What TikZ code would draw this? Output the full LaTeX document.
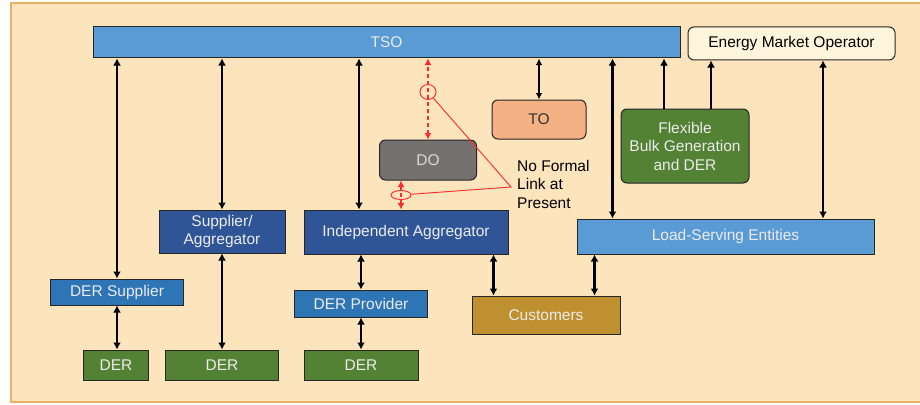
\documentclass[tikz,border=0pt]{standalone}
\usepackage{fontspec}
\setmainfont{Liberation Sans}
\usetikzlibrary{arrows.meta,shapes.geometric}
\definecolor{bgfill}{HTML}{FCE4BD}
\definecolor{bgline}{HTML}{E9B164}
\definecolor{tsoblue}{HTML}{5B9BD5}
\definecolor{derblue}{HTML}{2E75B6}
\definecolor{aggblue}{HTML}{2F5597}
\definecolor{dergreen}{HTML}{548235}
\definecolor{dogray}{HTML}{767171}
\definecolor{tofill}{HTML}{F4B183}
\definecolor{custfill}{HTML}{BF902F}
\definecolor{emofill}{HTML}{FFF5DC}
\definecolor{linkred}{HTML}{FF2A2A}

\begin{document}
\begin{tikzpicture}[x=1pt,y=-1pt,
    every node/.style={font=\fontsize{15.5}{18.5}\selectfont},
    box/.style={draw=black!85,line width=1pt,inner sep=0pt,align=center,text=white!92!black},
    rbox/.style={box,rounded corners=6pt},
    link/.style={line width=2.5pt,{Latex[length=7pt,width=8pt]}-{Latex[length=7pt,width=8pt]}},
    uplink/.style={line width=2.5pt,-{Latex[length=7pt,width=8pt]}},
    thinlink/.style={line width=1.2pt,{Latex[length=6.5pt,width=6.5pt]}-{Latex[length=6.5pt,width=6.5pt]}},
    nolink/.style={linkred,line width=2pt,dash pattern=on 4pt off 3pt,
      {Latex[length=6.5pt,width=7pt]}-{Latex[length=6.5pt,width=7pt]}},
    ring/.style={ellipse,draw=linkred,line width=0.9pt,inner sep=0pt}]

  \useasboundingbox (0,0) rectangle (920,404);
  \draw[draw=bgline,fill=bgfill,line width=1.5pt] (11,3) rectangle (925,402);

  % top row
  \node[box,fill=tsoblue,minimum width=587,minimum height=31] (TSO) at (386.5,42.5) {TSO};
  \node[rbox,fill=emofill,text=black,minimum width=207,minimum height=33] (EMO) at (791.5,43.5) {Energy Market Operator};

  % middle
  \node[rbox,fill=dogray,text=black!15,minimum width=97,minimum height=40] (DO) at (428,160) {DO};
  \node[rbox,fill=tofill,text=black!80,minimum width=94,minimum height=39] (TO) at (539,119.5) {TO};
  \node[rbox,fill=dergreen,minimum width=128,minimum height=74] (Flex) at (685,146) {Flexible\\Bulk Generation\\and DER};
  \node[box,fill=aggblue,minimum width=126,minimum height=43] (SupAgg) at (222,231.5) {Supplier/\\Aggregator};
  \node[box,fill=aggblue,minimum width=204,minimum height=44] (IA) at (406,232) {Independent Aggregator};
  \node[box,fill=tsoblue,minimum width=297,minimum height=35] (LSE) at (725.5,236.5) {Load-Serving Entities};

  % lower
  \node[box,fill=derblue,minimum width=133,minimum height=26] (DERsup) at (117,292) {DER Supplier};
  \node[box,fill=derblue,minimum width=133,minimum height=27] (DERprov) at (361,303.5) {DER Provider};
  \node[box,fill=custfill,minimum width=148,minimum height=38] (Cust) at (546,315) {Customers};
  \node[box,fill=dergreen,minimum width=65,minimum height=30] (DERa) at (116,365) {DER};
  \node[box,fill=dergreen,minimum width=113,minimum height=30] (DERb) at (222,365) {DER};
  \node[box,fill=dergreen,minimum width=114,minimum height=30] (DERc) at (361,365) {DER};

  % straight links
  \foreach \a/\b in {DERsup/TSO,SupAgg/TSO,DERb/SupAgg,DERprov/IA,DERc/DERprov}
    \draw[link] (\a.north) -- (\a.north |- \b.south);
  \draw[link] (DERsup.south) -- (DERsup.south |- DERa.north);
  \draw[link] ([xshift=-47pt]IA.north) -- ([xshift=-47pt]IA.north |- TSO.south);
  \draw[link] ([xshift=36pt]LSE.north west) -- ([xshift=36pt]LSE.north west |- TSO.south);
  \draw[link] ([xshift=31.5pt]EMO.south) -- ([xshift=31.5pt]EMO.south |- LSE.north);
  \draw[link] ([xshift=22pt]Cust.north west) -- ([xshift=22pt]Cust.north west |- IA.south);
  \draw[link] ([xshift=18pt]LSE.south west) -- ([xshift=18pt]LSE.south west |- Cust.north);
  \draw[thinlink] (TO.north) -- (TO.north |- TSO.south);
  \draw[uplink] ([xshift=-21pt]Flex.north) -- ([xshift=-21pt]Flex.north |- TSO.south);
  \draw[uplink] ([xshift=26pt]Flex.north) -- ([xshift=26pt]Flex.north |- EMO.south);

  % no formal link
  \draw[nolink] (DO.north) -- (DO.north |- TSO.south);
  \draw[nolink] ([xshift=-27pt]DO.south) -- ([xshift=-27pt]DO.south |- IA.north);
  \node[ring,minimum width=16,minimum height=15] (ringA) at (428,92) {};
  \node[ring,minimum width=20,minimum height=9] (ringB) at (401,195) {};
  \coordinate (callout) at (511,187);
  \draw[linkred,line width=0.9pt] (ringA) -- (callout) -- (ringB);
  \node[anchor=north west,align=left,inner sep=0pt] (note) at (517,160) {No Formal\\Link at\\Present};
\end{tikzpicture}
\end{document}
